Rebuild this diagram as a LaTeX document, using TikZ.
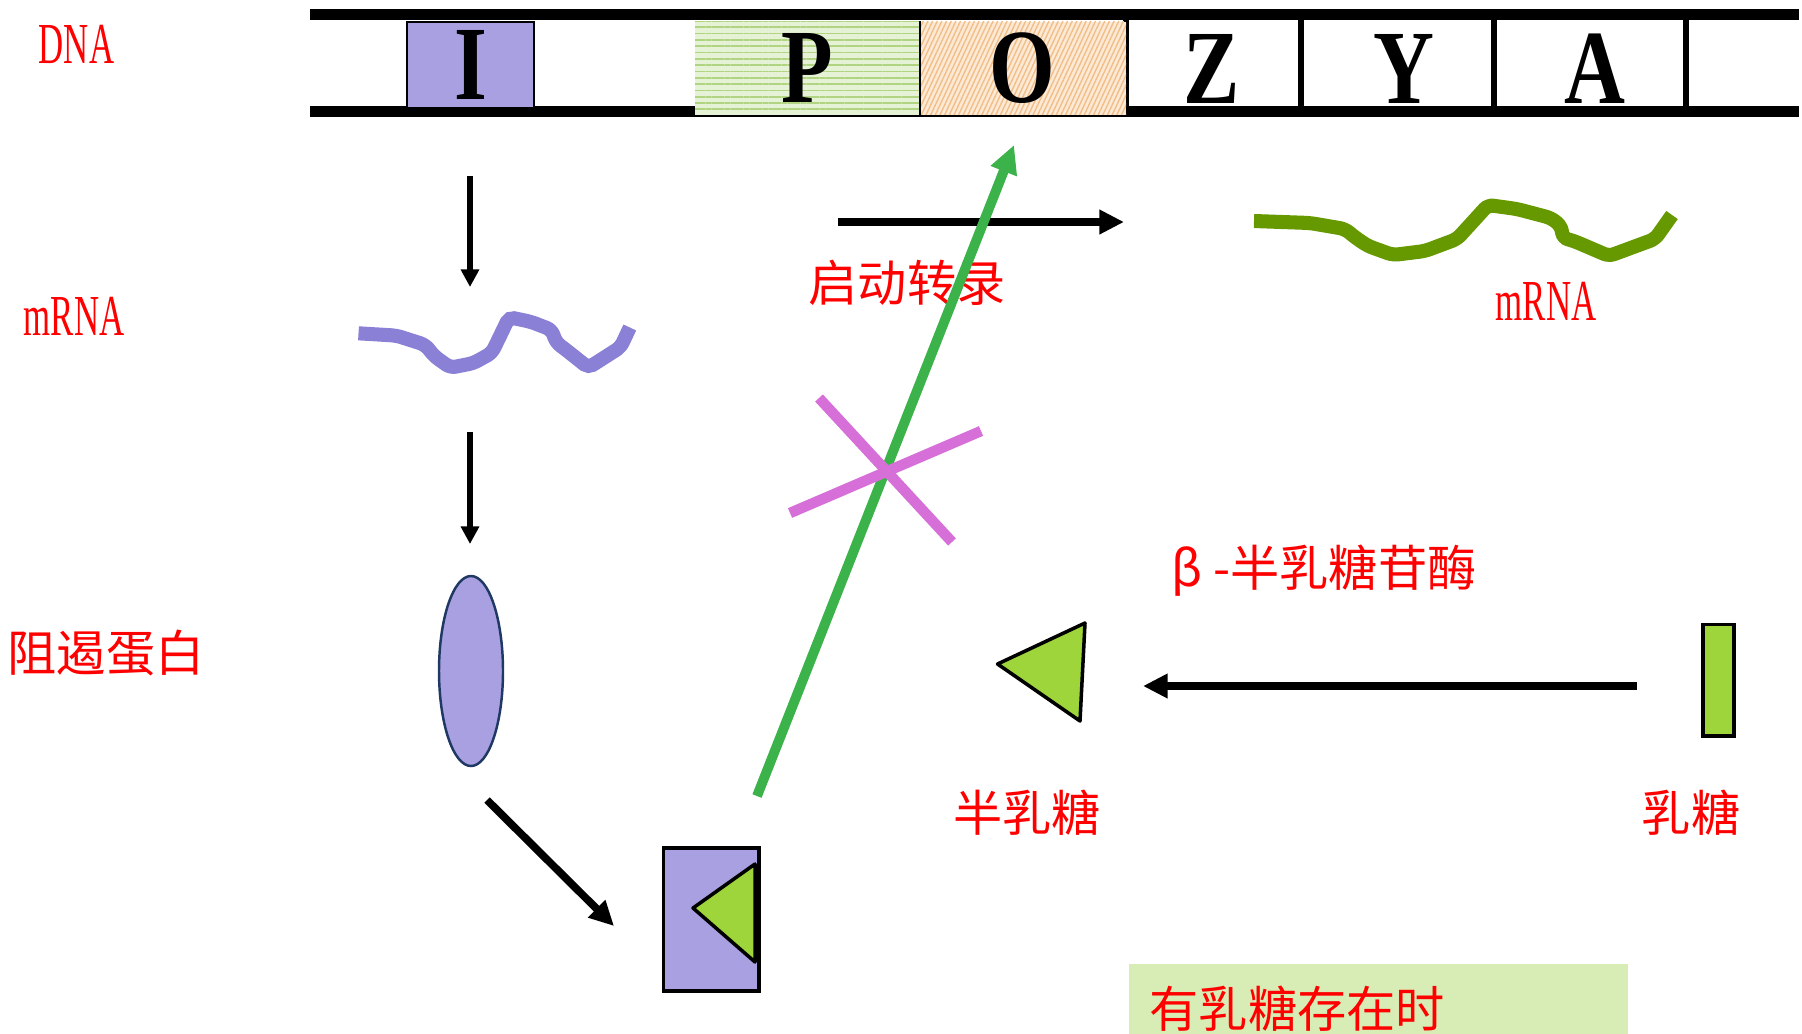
\documentclass[tikz,border=0pt]{standalone}
\usepackage{fontspec}
\usepackage{xcolor}
\usepackage{tikz}
\usetikzlibrary{arrows.meta,patterns.meta,shapes.geometric}
\newfontfamily\cjk{Noto Sans CJK SC}
\newfontfamily\narrowserif[FakeStretch=0.6]{Liberation Serif}
\newfontfamily\genefont[FakeStretch=0.8]{Liberation Serif}
\definecolor{lacred}{RGB}{255,0,0}
\definecolor{repblue}{RGB}{168,160,224}
\definecolor{repline}{RGB}{138,128,214}
\definecolor{repedge}{RGB}{32,56,100}
\definecolor{sugargreen}{RGB}{158,213,58}
\definecolor{mrnagreen}{RGB}{102,153,0}
\definecolor{pathgreen}{RGB}{60,178,74}
\definecolor{blockpink}{RGB}{214,112,216}
\definecolor{promfill}{RGB}{230,242,214}
\definecolor{promline}{RGB}{176,212,130}
\definecolor{operfill}{RGB}{252,234,214}
\definecolor{operline}{RGB}{242,190,136}
\definecolor{notegreen}{RGB}{216,237,182}

\begin{document}
\begin{tikzpicture}[
    lbl/.style={text=lacred, inner sep=0pt, font=\cjk\fontsize{14}{16}\selectfont},
    latinlbl/.style={text=lacred, inner sep=0pt, font=\narrowserif\fontsize{16.5}{18}\selectfont},
    genebox/.style={draw, line width=0.6pt, inner sep=0pt,
                    font=\genefont\bfseries\fontsize{30}{32}\selectfont},
    bar/.style={line width=3pt},
    divider/.style={line width=1.8pt},
    arr/.style={-{Triangle[length=5pt,width=5pt]}, line width=1.5pt},
    bigarr/.style={-{Triangle[length=7pt,width=6.6pt]}, line width=2.2pt},
    strand/.style={line width=4pt, rounded corners=1.5pt},
    sugar/.style={draw, line width=1pt, fill=sugargreen, line join=round}
  ]
    \useasboundingbox (0,0) rectangle (18.02,-10.33);

    \draw[bar] (3.10,-0.145) -- (17.99,-0.145);
    \draw[bar] (3.10,-1.115) -- (17.99,-1.115);
    \foreach \x in {11.26,13.01,14.94,16.86}
      \draw[divider] (\x,-0.145) -- (\x,-1.115);

    \node[genebox, fill=repblue, minimum width=1.27cm, minimum height=0.864cm] (geneI) at (4.705,-0.65) {I};
    \node[genebox, draw=none, preaction={fill=promfill},
          pattern={Lines[angle=0,distance=1.8pt,line width=0.5pt]}, pattern color=promline,
          minimum width=2.24cm, minimum height=0.93cm] (geneP) at (8.07,-0.68) {P};
    \node[genebox, draw=none, preaction={fill=operfill},
          pattern={Lines[angle=65,distance=1.2pt,line width=0.4pt]}, pattern color=operline,
          minimum width=2.07cm, minimum height=0.93cm] (geneO) at (10.225,-0.68) {O};
    \draw[line width=0.5pt] (geneP.north east) -- (geneP.south east);
    \node[genebox, draw=none] (geneZ) at (12.12,-0.69) {Z};
    \node[genebox, draw=none] (geneY) at (14.04,-0.69) {Y};
    \node[genebox, draw=none] (geneA) at (15.95,-0.69) {A};

    \node[latinlbl] (dnalbl) at (0.765,-0.44) {DNA};
    \node[latinlbl] (mrnaleft) at (0.74,-3.16) {mRNA};
    \node[lbl] (replbl) at (1.06,-6.53) {阻遏蛋白};
    \node[lbl] (translbl) at (9.07,-2.83) {启动转录};
    \node[latinlbl] (mrnaright) at (15.46,-3.01) {mRNA};
    \node[lbl] (enzlbl) at (13.24,-5.71) {β -半乳糖苷酶};
    \node[lbl] (galbl) at (10.27,-8.13) {半乳糖};
    \node[lbl] (laclbl) at (16.91,-8.13) {乳糖};

    \draw[strand, repline] (3.585,-3.333) -- (3.965,-3.356) -- (4.252,-3.448) -- (4.344,-3.563)
      -- (4.505,-3.677) -- (4.735,-3.631) -- (4.919,-3.528) -- (5.091,-3.172) -- (5.309,-3.218)
      -- (5.516,-3.298) -- (5.562,-3.425) -- (5.654,-3.494) -- (5.884,-3.677) -- (6.206,-3.471)
      -- (6.298,-3.275);
    \draw[strand, mrnagreen] (12.54,-2.21) -- (13.10,-2.23) -- (13.45,-2.29) -- (13.56,-2.38)
      -- (13.68,-2.46) -- (13.93,-2.55) -- (14.25,-2.51) -- (14.57,-2.39) -- (14.88,-2.05)
      -- (15.17,-2.09) -- (15.51,-2.18) -- (15.61,-2.26) -- (15.63,-2.38) -- (15.74,-2.41)
      -- (16.09,-2.56) -- (16.55,-2.39) -- (16.72,-2.15);

    \node[ellipse, draw=repedge, line width=0.7pt, fill=repblue, inner sep=0pt,
          minimum width=0.64cm, minimum height=1.9cm] (repressor) at (4.71,-6.71) {};
    \node[draw, line width=1pt, fill=repblue, inner sep=0pt,
          minimum width=0.955cm, minimum height=1.43cm] (complex) at (7.11,-9.195) {};
    \draw[sugar] (6.93,-9.08) -- (7.55,-8.64) -- (7.55,-9.62) -- cycle;
    \draw[sugar] (9.975,-6.64) -- (10.85,-6.23) -- (10.80,-7.21) -- cycle;
    \node[draw, line width=1pt, fill=sugargreen, inner sep=0pt,
          minimum width=0.31cm, minimum height=1.115cm] (lactose) at (17.185,-6.80) {};

    \node[fill=notegreen, anchor=north west, inner xsep=0.21cm, inner ysep=0pt,
          minimum height=0.9cm, text width=4.57cm, align=left, text=lacred,
          font=\cjk\fontsize{14}{16}\selectfont] (note) at (11.28,-9.63) {有乳糖存在时};

    \coordinate (dnadown) at (4.70,-1.76);
    \coordinate (mrnaup) at (4.70,-2.87);
    \coordinate (mrnadown) at (4.70,-4.32);
    \coordinate (repup) at (4.70,-5.44);
    \coordinate (repout) at (4.87,-8.00);
    \coordinate (complexin) at (6.14,-9.26);
    \coordinate (txstart) at (8.38,-2.22);
    \coordinate (txend) at (11.24,-2.22);
    \coordinate (lacout) at (16.37,-6.86);
    \coordinate (galin) at (11.43,-6.86);
    \coordinate (complexout) at (7.57,-7.96);
    \coordinate (operin) at (10.14,-1.45);

    \draw[arr] (dnadown) -- (mrnaup);
    \draw[arr] (mrnadown) -- (repup);
    \draw[bigarr] (repout) -- (complexin);
    \draw[bigarr] (txstart) -- (txend);
    \draw[bigarr] (lacout) -- (galin);
    \draw[pathgreen, line width=2.8pt, -{Triangle[length=8pt,width=7.5pt]}] (complexout) -- (operin);

    \draw[blockpink, line width=3pt] (8.19,-3.98) -- (9.52,-5.42);
    \draw[blockpink, line width=3pt] (7.90,-5.13) -- (9.81,-4.31);
  \end{tikzpicture}
\end{document}
